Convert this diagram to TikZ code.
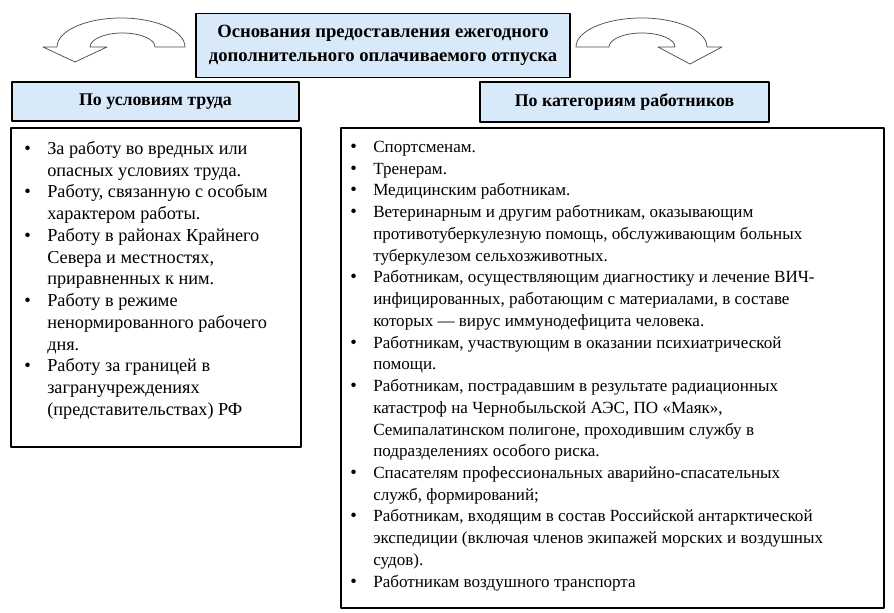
\documentclass[tikz,border=0pt]{standalone}
\usepackage{fontspec}
\setmainfont{Liberation Serif}
\usetikzlibrary{positioning}
\definecolor{headblue}{RGB}{216,234,250}
\newcommand\bul{{\fontsize{14}{16}\selectfont\textbullet}}
\begin{document}
\begin{tikzpicture}[x=0.75pt,y=-0.75pt,line join=round,line cap=round,
	hdbox/.style={draw,line width=0.9pt,fill=headblue,align=center,inner sep=0pt,font=\bfseries\fontsize{13.4}{18}\selectfont},
	listbox/.style={draw,line width=0.9pt,inner sep=0pt},
	listtext/.style={anchor=north west,inner sep=0pt},
	curvearrow/.style={draw=black!70,line width=0.55pt,fill=white}]
	\useasboundingbox (0,0) rectangle (894,613);

	\node[hdbox,minimum width=280.5pt,minimum height=48pt,font=\bfseries\fontsize{14}{18}\selectfont] (title) at (383,45.5)
		{Основания предоставления ежегодного\\дополнительного оплачиваемого отпуска};
	\node[hdbox,minimum width=215.25pt,minimum height=29.25pt] (cond) at (155.5,101.5) {По условиям труда};
	\node[hdbox,minimum width=216.75pt,minimum height=30pt] (cat) at (624.5,102) {По категориям работников};
	\node[listbox,minimum width=217.5pt,minimum height=239.25pt] (condbox) at (156,287.5) {};
	\node[listbox,minimum width=407.25pt,minimum height=360pt] (catbox) at (612.5,368) {};

	% curved arrows
	\draw[curvearrow] (185,47) arc[start angle=360,end angle=180,x radius=64,y radius=29]
		-- (43,47) -- (75,62) -- (107,47) -- (90,47)
		arc[start angle=180,end angle=360,x radius=32.5,y radius=14] -- cycle;
	\draw[curvearrow] (576,47) arc[start angle=180,end angle=360,x radius=65.5,y radius=29]
		-- (722,47) -- (690,64) -- (658,47) -- (675,47)
		arc[start angle=360,end angle=180,x radius=33,y radius=14] -- cycle;

	\node[listtext,font=\fontsize{13.7}{16.3}\selectfont] (condlist) at (24,139) {%
		\begin{tabular}{@{}p{17.25pt}@{}l@{}}
		\bul & За работу во вредных или\\
		& опасных условиях труда.\\
		\bul & Работу, связанную с особым\\
		& характером работы.\\
		\bul & Работу в районах Крайнего\\
		& Севера и местностях,\\
		& приравненных к ним.\\
		\bul & Работу в режиме\\
		& ненормированного рабочего\\
		& дня.\\
		\bul & Работу за границей в\\
		& загранучреждениях\\
		& (представительствах) РФ
		\end{tabular}};
	\node[listtext,font=\fontsize{12.8}{16.3}\selectfont] (catlist) at (350,137) {%
		\begin{tabular}{@{}p{17.25pt}@{}l@{}}
		\bul & Спортсменам.\\
		\bul & Тренерам.\\
		\bul & Медицинским работникам.\\
		\bul & Ветеринарным и другим работникам, оказывающим\\
		& противотуберкулезную помощь, обслуживающим больных\\
		& туберкулезом сельхозживотных.\\
		\bul & Работникам, осуществляющим диагностику и лечение ВИЧ-\\
		& инфицированных, работающим с материалами, в составе\\
		& которых — вирус иммунодефицита человека.\\
		\bul & Работникам, участвующим в оказании психиатрической\\
		& помощи.\\
		\bul & Работникам, пострадавшим в результате радиационных\\
		& катастроф на Чернобыльской АЭС, ПО «Маяк»,\\
		& Семипалатинском полигоне, проходившим службу в\\
		& подразделениях особого риска.\\
		\bul & Спасателям профессиональных аварийно-спасательных\\
		& служб, формирований;\\
		\bul & Работникам, входящим в состав Российской антарктической\\
		& экспедиции (включая членов экипажей морских и воздушных\\
		& судов).\\
		\bul & Работникам воздушного транспорта
		\end{tabular}};
\end{tikzpicture}
\end{document}
